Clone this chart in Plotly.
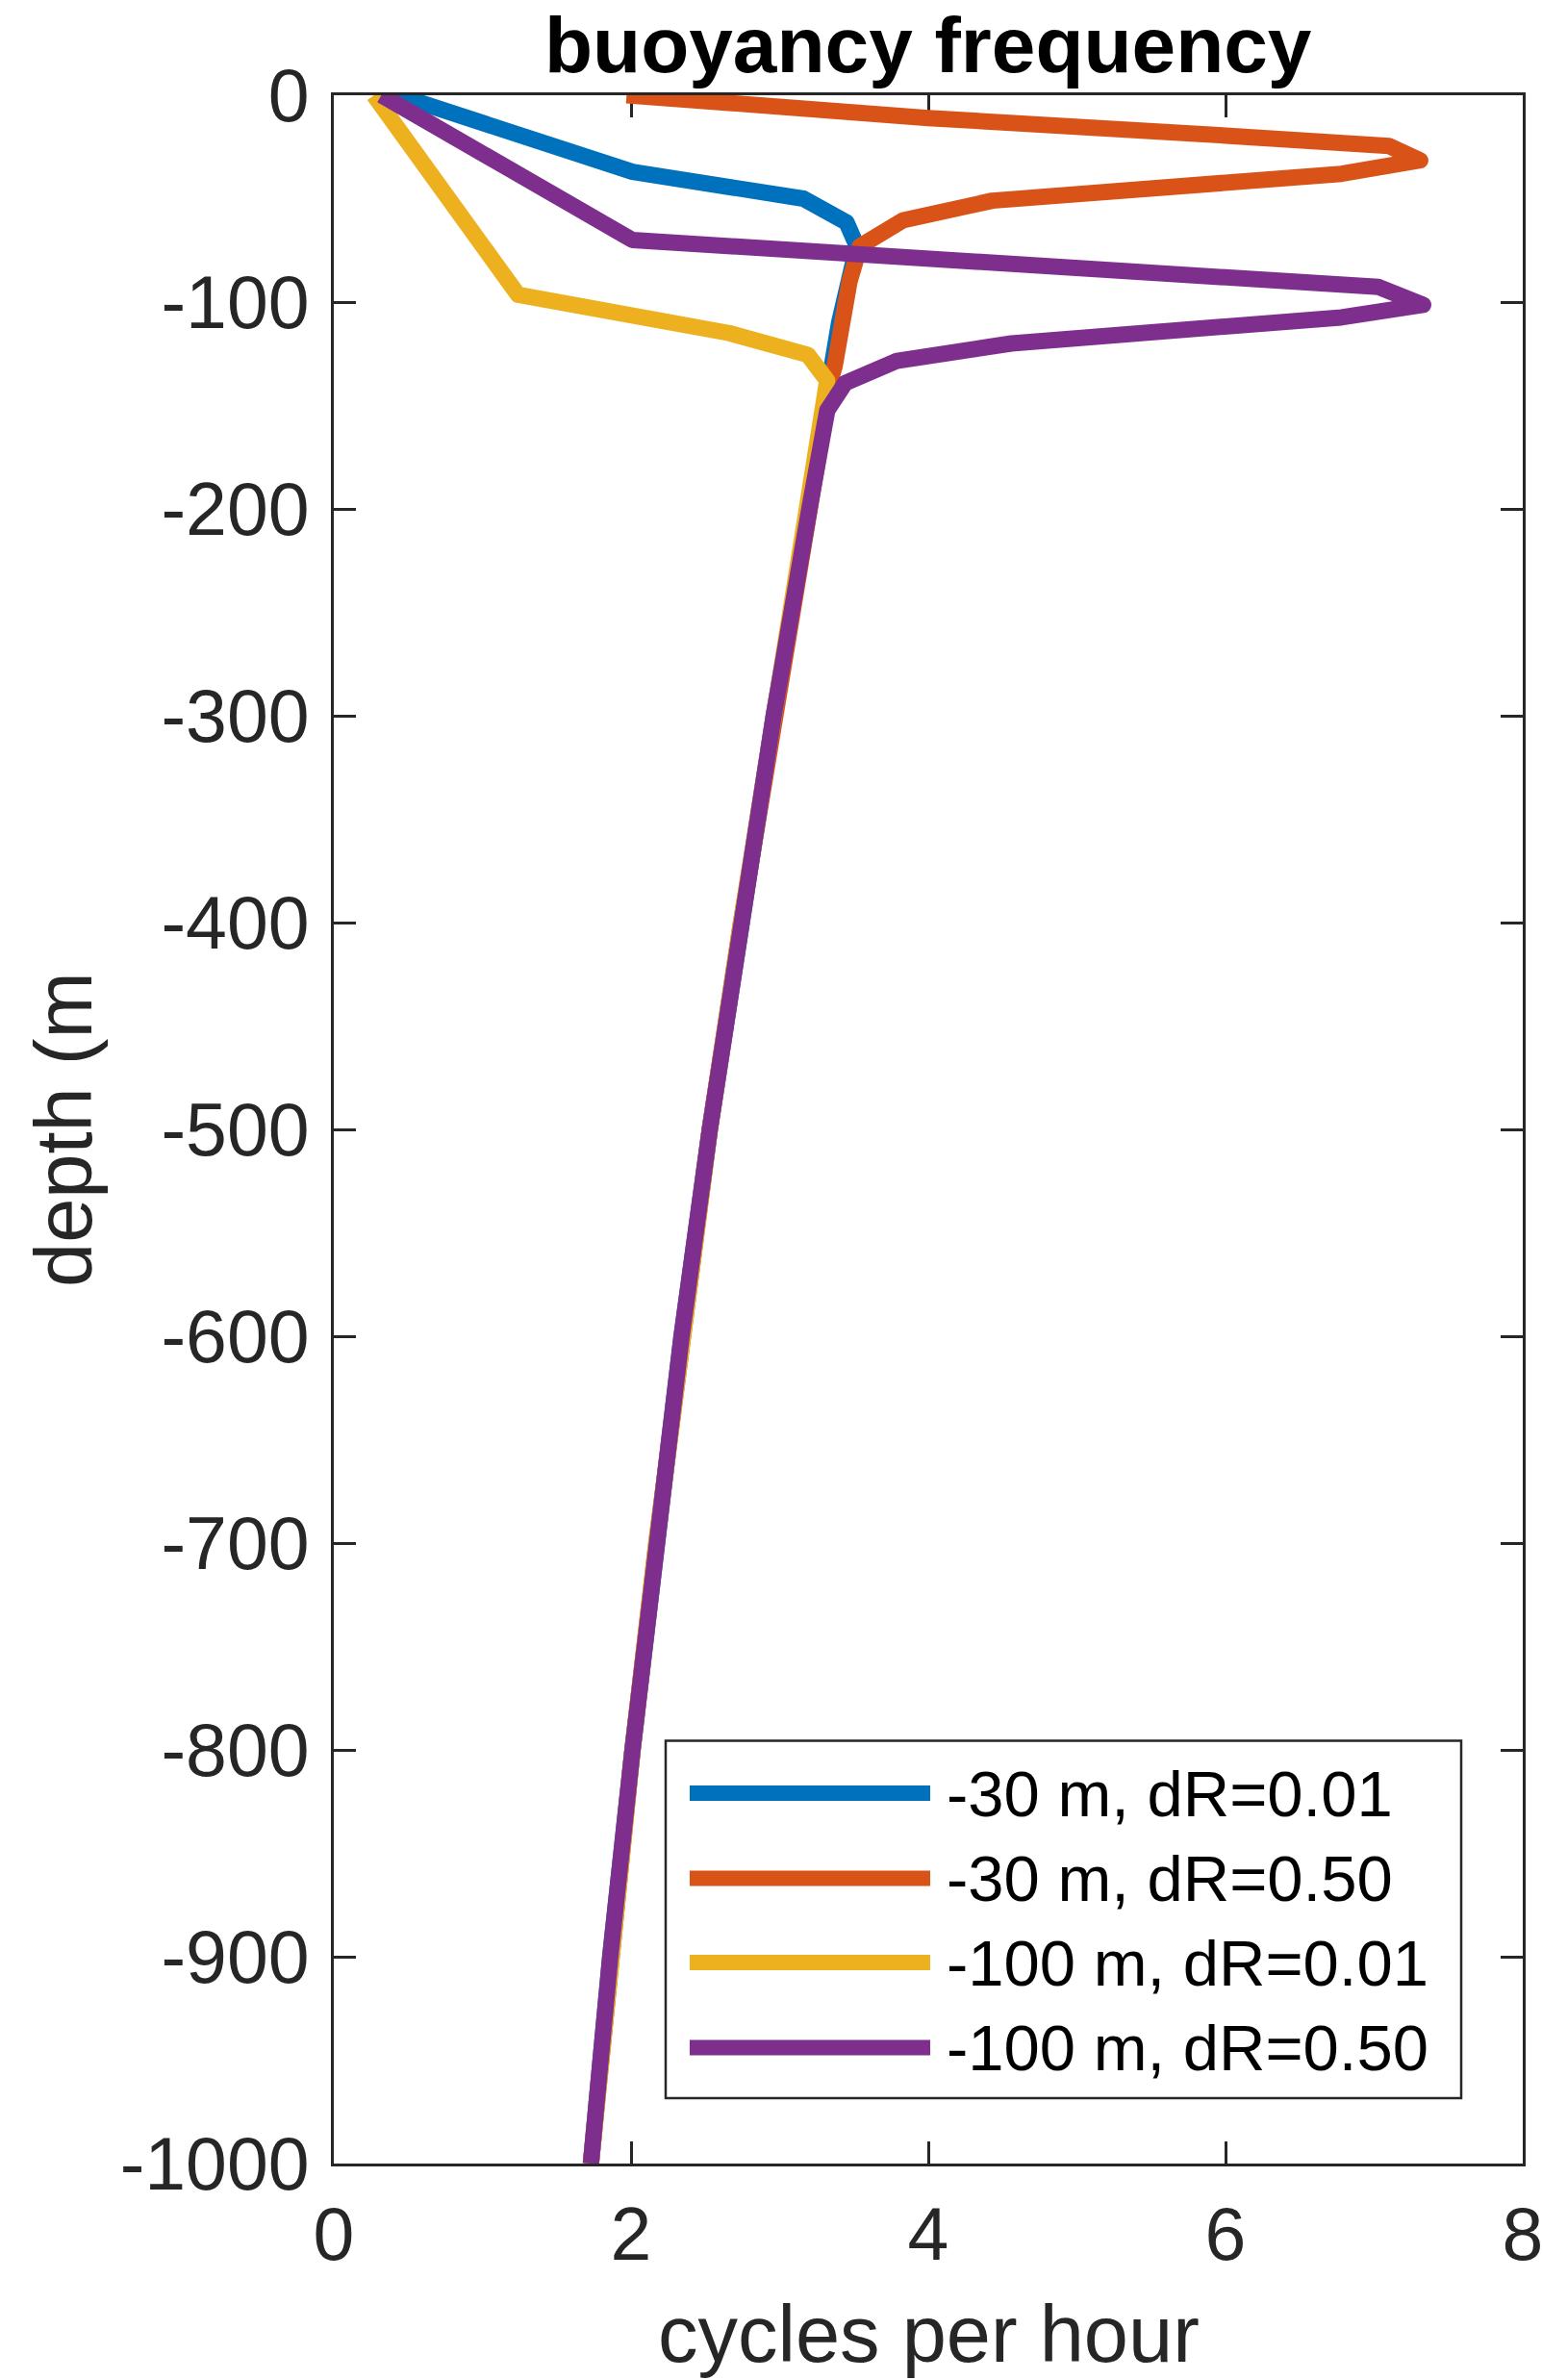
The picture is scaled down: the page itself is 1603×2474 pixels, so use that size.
import plotly.graph_objects as go

# ---------------- data ----------------
series_names = ["-30 m, dR=0.01", "-30 m, dR=0.50", "-100 m, dR=0.01", "-100 m, dR=0.50"]
series_colors = ["#0072BD", "#D95319", "#EDB120", "#7E2F8E"]

blue_x = [0.43, 2.01, 3.16, 3.45, 3.52, 3.47, 3.40, 3.33, 3.26, 3.20, 2.96, 2.74, 2.53, 2.34, 2.17, 2.01, 1.86, 1.73]
blue_z = [0, -37, -50, -61.5, -73, -87, -110, -140, -175, -200, -300, -400, -500, -600, -700, -800, -900, -1000]

orange_x = [1.97, 4.0, 6.0, 7.10, 7.31, 6.78, 4.43, 3.83, 3.54, 3.47, 3.37, 3.31, 3.26, 3.20, 2.96, 2.74, 2.53, 2.34, 2.17, 2.01, 1.86, 1.73]
orange_z = [0, -11, -19.5, -24.5, -31.5, -38, -51, -60.5, -73, -90, -131, -146, -175, -200, -300, -400, -500, -600, -700, -800, -900, -1000]

yellow_x = [0.27, 1.24, 2.66, 3.19, 3.32, 3.27, 3.26, 3.20, 2.96, 2.74, 2.53, 2.34, 2.17, 2.01, 1.86, 1.73]
yellow_z = [0, -96.5, -115, -125.5, -138, -160, -175, -200, -300, -400, -500, -600, -700, -800, -900, -1000]

purple_x = [0.32, 2.01, 7.03, 7.33, 6.78, 4.56, 3.79, 3.44, 3.32, 3.26, 3.20, 2.96, 2.74, 2.53, 2.34, 2.17, 2.01, 1.86, 1.73]
purple_z = [0, -70, -92.7, -101.3, -107.4, -120, -128.4, -139.2, -152.4, -175, -200, -300, -400, -500, -600, -700, -800, -900, -1000]

x_ticks = [0, 2, 4, 6, 8]
y_ticks = [0, -100, -200, -300, -400, -500, -600, -700, -800, -900, -1000]

title_text = "buoyancy frequency"
x_label = "cycles per hour"
y_label = "depth (m"

# ---------------- layout geometry (pixels) ----------------
W, H = 1603, 2474
PL, PR, PT, PB = 347, 1583, 99, 2249
LW = 17
AX = "#262626"
FONT = "Liberation Sans, Arial, Helvetica, sans-serif"


def px(xp):
    return (xp - PL) / (PR - PL)


def py(yp):
    return (PB - yp) / (PB - PT)


fig = go.Figure()
for xs, zs, name, col in zip([blue_x, orange_x, yellow_x, purple_x],
                             [blue_z, orange_z, yellow_z, purple_z],
                             series_names, series_colors):
    fig.add_trace(go.Scatter(x=xs, y=zs, mode="lines", name=name,
                             line=dict(color=col, width=LW),
                             cliponaxis=False, showlegend=False))

axis_common = dict(showline=True, linecolor=AX, linewidth=3, mirror="ticks",
                   ticks="inside", ticklen=23, tickwidth=3, tickcolor=AX,
                   showgrid=False, zeroline=False, layer="below traces",
                   ticklabeloverflow="allow",
                   tickfont=dict(family=FONT, size=77, color=AX))

fig.update_xaxes(range=[0, 8], tickmode="array", tickvals=x_ticks,
                 ticktext=[str(v) for v in x_ticks], ticklabelstandoff=5,
                 **axis_common)
fig.update_yaxes(range=[-1000, 0], tickmode="array", tickvals=y_ticks,
                 ticktext=[str(v) for v in y_ticks], ticklabelstandoff=7,
                 **axis_common)

shapes = []
annotations = []

# legend (manual, to match long MATLAB-style legend samples)
shapes.append(dict(type="rect", xref="paper", yref="paper",
                   x0=px(692), x1=px(1519), y0=py(2181), y1=py(1809.5),
                   line=dict(color=AX, width=2.5), fillcolor="white", layer="above"))
row_y = [1864, 1952.5, 2040, 2128.5]
for ry, name, col in zip(row_y, series_names, series_colors):
    shapes.append(dict(type="line", xref="paper", yref="paper",
                       x0=px(717), x1=px(967), y0=py(ry), y1=py(ry),
                       line=dict(color=col, width=16), layer="above"))
    annotations.append(dict(xref="paper", yref="paper", x=px(982), y=py(ry),
                            xanchor="left", yanchor="middle", showarrow=False,
                            text=name, font=dict(family=FONT, size=67, color="black")))

# title and axis labels
annotations.append(dict(xref="paper", yref="paper", x=0.5, y=py(46),
                        xanchor="center", yanchor="middle", showarrow=False,
                        text="<b>" + title_text + "</b>",
                        font=dict(family=FONT, size=82, color="black")))
annotations.append(dict(xref="paper", yref="paper", x=0.5, y=py(2426),
                        xanchor="center", yanchor="middle", showarrow=False,
                        text=x_label, font=dict(family=FONT, size=83, color=AX)))
annotations.append(dict(xref="paper", yref="paper", x=px(66), y=0.5,
                        xanchor="center", yanchor="middle", showarrow=False,
                        textangle=-90, text=y_label,
                        font=dict(family=FONT, size=83, color=AX)))

fig.update_layout(width=W, height=H, autosize=False,
                  margin=dict(l=PL, r=W - PR, t=PT, b=H - PB, pad=0, autoexpand=False),
                  paper_bgcolor="white", plot_bgcolor="white",
                  shapes=shapes, annotations=annotations, showlegend=False)

post = """
document.body.style.margin = '0';
document.body.style.overflow = 'hidden';
var gd = document.getElementById('{plot_id}');
function roundJoins() {
  document.querySelectorAll('.scatterlayer .js-line').forEach(function (p) {
    p.style.strokeLinejoin = 'round';
  });
}
roundJoins();
if (gd && gd.on) { gd.on('plotly_afterplot', roundJoins); }
setTimeout(roundJoins, 0);
setTimeout(roundJoins, 200);
"""

fig.write_html("out.html", post_script=post, config={"displayModeBar": False})
